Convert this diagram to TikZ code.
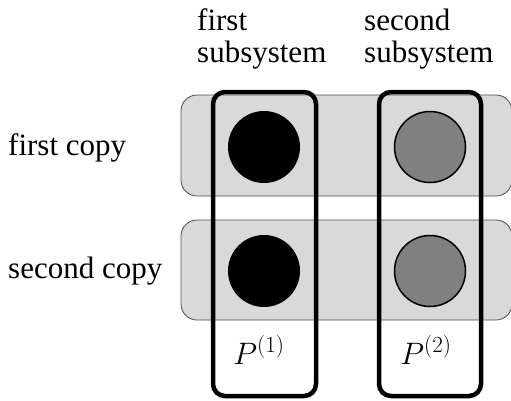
\RequirePackage{fix-cm}
\documentclass[tikz,border=0pt]{standalone}
\usepackage{fontspec}
\setmainfont{Liberation Serif}
\DeclareMathSizes{31}{31}{23}{17}
\begin{document}
\begin{tikzpicture}[x=1pt,y=-1pt,
  txt/.style={font=\fontsize{31}{37}\selectfont, inner sep=0pt},
  copybox/.style={draw=black!70, fill=black!15, line width=0.8pt, rounded corners=16pt},
  subbox/.style={draw=black, line width=4.5pt, rounded corners=12pt},
  blackdot/.style={circle, fill=black, minimum size=72pt, inner sep=0pt},
  graydot/.style={circle, fill=black!50, draw=black, line width=1.5pt, minimum size=71pt, inner sep=0pt}]
\useasboundingbox (0,0) rectangle (511,400);
\draw[copybox] (181,95) rectangle (512,196);
\draw[copybox] (181,220) rectangle (512,320);
\node[blackdot] (a1) at (264,147) {};
\node[blackdot] (a2) at (264,271) {};
\node[graydot] (b1) at (430,147) {};
\node[graydot] (b2) at (430,271) {};
\draw[subbox] (213,92) rectangle (316,396);
\draw[subbox] (379,92) rectangle (481,396);
\node[txt, anchor=west] (fc) at (8,148) {first copy};
\node[txt, anchor=west] (sc) at (8,271) {second copy};
\node[txt, anchor=west] (fs1) at (197,20) {first};
\node[txt, anchor=west] (fs2) at (197,55) {subsystem};
\node[txt, anchor=west] (ss1) at (364,20) {second};
\node[txt, anchor=west] (ss2) at (364,55) {subsystem};
\node[txt] (p1) at (259,350) {$P^{(1)}$};
\node[txt] (p2) at (426,350) {$P^{(2)}$};
\end{tikzpicture}
\end{document}
